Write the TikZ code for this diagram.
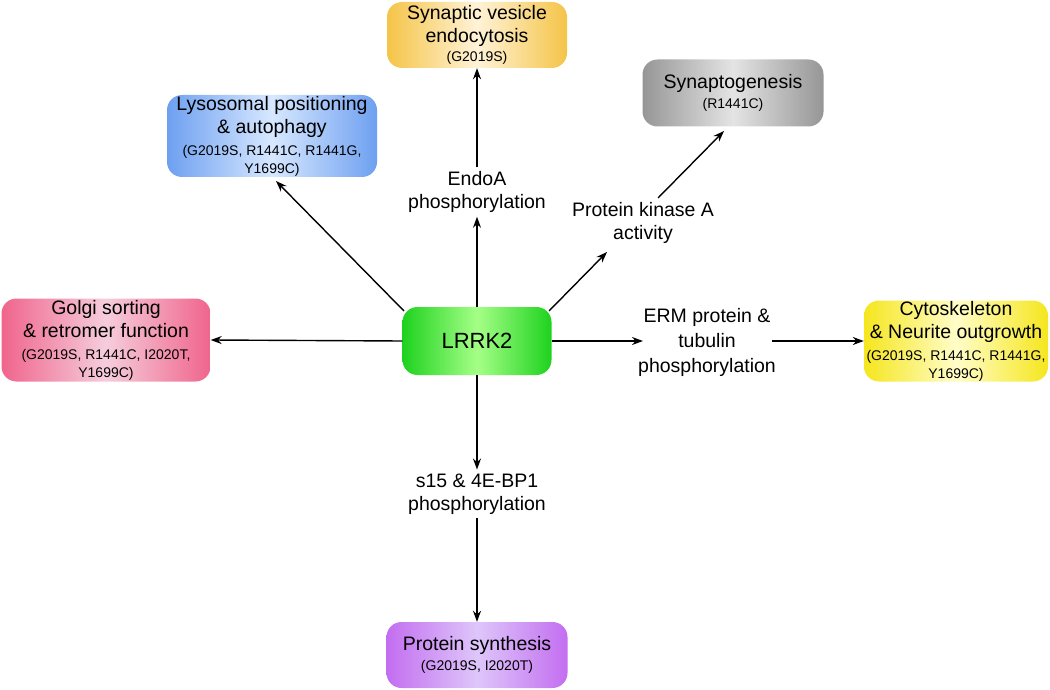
\documentclass[tikz,border=0pt]{standalone}
\usepackage{fontspec}
\setmainfont{Liberation Sans}
\usetikzlibrary{arrows.meta,calc}
\newcommand{\mutfont}{\fontsize{14}{17}\selectfont}
\definecolor{synE}{RGB}{245,196,72}\definecolor{synC}{RGB}{255,243,215}
\definecolor{lysE}{RGB}{110,160,240}\definecolor{lysC}{RGB}{215,232,255}
\definecolor{sygE}{RGB}{150,150,150}\definecolor{sygC}{RGB}{228,228,228}
\definecolor{golE}{RGB}{240,100,140}\definecolor{golC}{RGB}{245,205,220}
\definecolor{lrrE}{RGB}{30,210,30}\definecolor{lrrC}{RGB}{165,255,135}
\definecolor{cytE}{RGB}{245,230,30}\definecolor{cytC}{RGB}{255,253,200}
\definecolor{proE}{RGB}{195,110,240}\definecolor{proC}{RGB}{222,198,250}
\begin{document}
\begin{tikzpicture}[x=1pt,y=-1pt,
  box/.style={rounded corners=15pt, inner sep=0pt, align=center,
    font=\fontsize{19.5}{23}\selectfont},
  shadebox/.style 2 args={box, left color=#1, right color=#1, middle color=#2},
  lbl/.style={align=center, font=\fontsize{19.5}{23}\selectfont, inner sep=4pt},
  arr/.style={line width=1.4pt, -{Stealth[length=11pt,width=8pt]}}]
\useasboundingbox (0,0) rectangle (1050,690);

\node[shadebox={synE}{synC}, minimum width=180pt, minimum height=66pt] (syn) at (477,35)
  {Synaptic vesicle\\endocytosis\\[-4pt]{\mutfont (G2019S)}};
\node[shadebox={lysE}{lysC}, minimum width=210pt, minimum height=82pt] (lys) at (272,136)
  {Lysosomal positioning\\\& autophagy\\[-1pt]{\mutfont (G2019S, R1441C, R1441G,}\\[-5pt]{\mutfont Y1699C)}};
\node[shadebox={sygE}{sygC}, minimum width=181pt, minimum height=67pt] (syg) at (733,93)
  {Synaptogenesis\\[-3pt]{\mutfont (R1441C)}};
\node[shadebox={golE}{golC}, minimum width=209pt, minimum height=83pt] (gol) at (106,340)
  {Golgi sorting\\\& retromer function\\[-1pt]{\mutfont (G2019S, R1441C, I2020T,}\\[-5pt]{\mutfont Y1699C)}};
\node[shadebox={lrrE}{lrrC}, minimum width=149pt, minimum height=68pt, font=\fontsize{22}{26}\selectfont] (lrrk) at (477,341)
  {LRRK2};
\node[shadebox={cytE}{cytC}, minimum width=184pt, minimum height=81pt] (cyt) at (956,341)
  {Cytoskeleton\\\& Neurite outgrowth\\[-1pt]{\mutfont (G2019S, R1441C, R1441G,}\\[-5pt]{\mutfont Y1699C)}};
\node[shadebox={proE}{proC}, minimum width=181pt, minimum height=66pt] (pro) at (477,655)
  {Protein synthesis\\[-3pt]{\mutfont (G2019S, I2020T)}};

\node[lbl] (endo) at (477,192) {EndoA\\phosphorylation};
\node[lbl] (pka) at (643,223) {Protein kinase A\\activity};
\node[lbl, font=\fontsize{19.5}{25}\selectfont] (erm) at (707,342) {ERM protein \&\\tubulin\\phosphorylation};
\node[lbl] (s15) at (477,494) {s15 \& 4E-BP1\\phosphorylation};

\coordinate (lrrkNE) at (549,311);
\coordinate (pkaIn) at (607,252);
\coordinate (pkaOut) at (658,198);
\coordinate (sygIn) at (724,131);
\coordinate (lrrkNW) at (404,311);
\coordinate (lysIn) at (276,181);
\coordinate (ermIn) at (643,341);
\coordinate (ermOut) at (772,341);

\draw[arr] (lrrk.north) -- (endo.south);
\draw[arr] (endo.north) -- (syn.south);
\draw[arr] (lrrkNE) -- (pkaIn);
\draw[arr] (pkaOut) -- (sygIn);
\draw[arr] (lrrkNW) -- (lysIn);
\draw[arr] (lrrk.west) -- (gol.east);
\draw[arr] (lrrk.east) -- (ermIn);
\draw[arr] (ermOut) -- (cyt.west);
\draw[arr] (lrrk.south) -- (s15.north);
\draw[arr] (s15.south) -- (pro.north);
\end{tikzpicture}
\end{document}
